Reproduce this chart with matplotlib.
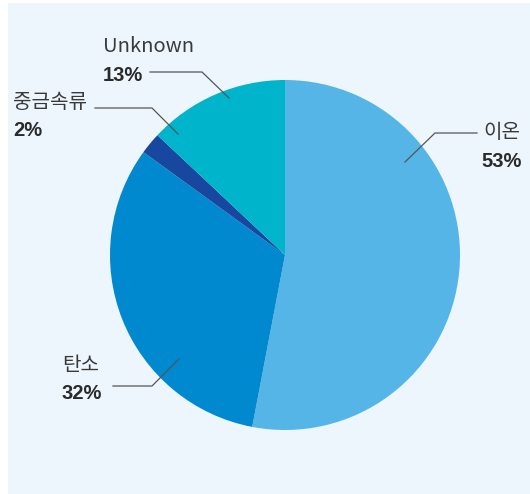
import matplotlib.pyplot as plt
from matplotlib.patches import Rectangle

plt.rcParams['font.family'] = ['Noto Sans CJK KR', 'DejaVu Sans']

labels = ['이온', '탄소', '중금속류', 'Unknown']
shares = [53, 32, 2, 13]
colors = ['#55b5e6', '#0089cf', '#17479e', '#00b4cb']

# label anchor (px), leader line path (px) for each slice
text_pos = [(502, 133), (62, 365), (13, 103), (103, 47)]
text_align = ['center', 'left', 'left', 'left']
leaders = [
    [(405, 162), (435, 133), (477, 133)],
    [(179, 359), (152, 386), (113, 386)],
    [(178, 134), (152, 108), (95, 108)],
    [(229, 98), (202, 72), (150, 72)],
]

W, H = 530, 494
cx, cy, r = 285, 255, 175

fig = plt.figure(figsize=(W / 100, H / 100), dpi=100)
fig.patch.set_facecolor('white')
fig.add_artist(Rectangle((8 / W, 0), 1, 1 - 3 / H, transform=fig.transFigure,
                         facecolor='#eef6fd', edgecolor='none', zorder=0))

ax = fig.add_axes([(cx - r) / W, (H - cy - r) / H, 2 * r / W, 2 * r / H])
ax.pie(shares, colors=colors, startangle=90, counterclock=False,
       wedgeprops=dict(linewidth=0))
ax.set_xlim(-1, 1)
ax.set_ylim(-1, 1)
ax.set_axis_off()


def px2fig(x, y):
    return x / W, 1 - y / H


for lab, pct, (tx, ty), ha, path in zip(labels, shares, text_pos, text_align, leaders):
    xs = [px2fig(x, y)[0] for x, y in path]
    ys = [px2fig(x, y)[1] for x, y in path]
    fig.add_artist(plt.Line2D(xs, ys, color='#555555', linewidth=0.9,
                              transform=fig.transFigure))
    fx, fy = px2fig(tx, ty)
    fig.text(fx, fy, lab, ha=ha, va='center', fontsize=14.5,
             fontweight='light', color='#3a3a3a')
    fx, fy = px2fig(tx, ty + 28)
    fig.text(fx, fy, f'{pct}%', ha=ha, va='center', fontsize=14.5,
             fontweight='bold', color='#2a2a2a',
             family=['Liberation Sans', 'DejaVu Sans'])

fig.savefig('out.png', dpi=100)
